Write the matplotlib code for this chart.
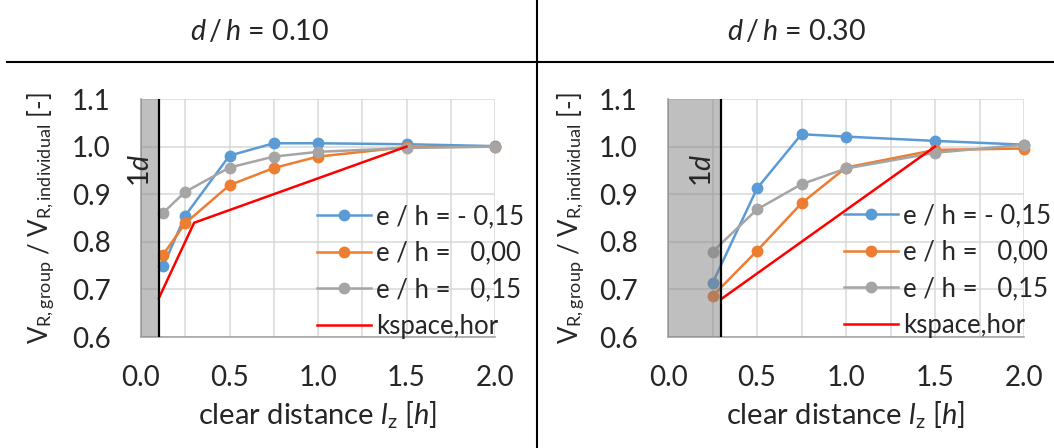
import matplotlib
matplotlib.use("Agg")
import matplotlib.pyplot as plt
from matplotlib.lines import Line2D

plt.rcParams['font.family'] = ['Lato', 'DejaVu Sans']
plt.rcParams['mathtext.fontset'] = 'custom'
plt.rcParams['mathtext.rm'] = 'Lato'
plt.rcParams['mathtext.it'] = 'Lato:italic'
plt.rcParams['mathtext.bf'] = 'Lato:bold'

# ---------------- data ----------------
panel_titles = ["0.10", "0.30"]
wall_x = [0.1, 0.3]

x_left = [0.125, 0.25, 0.5, 0.75, 1.0, 1.5, 2.0]
blue_left = [0.749, 0.855, 0.981, 1.007, 1.007, 1.005, 1.001]
orange_left = [0.773, 0.839, 0.919, 0.955, 0.979, 0.999, 1.000]
gray_left = [0.861, 0.905, 0.956, 0.979, 0.989, 0.997, 1.000]
kspace_x_left = [0.1, 0.3, 1.5]
kspace_y_left = [0.681, 0.840, 1.000]

x_right = [0.25, 0.5, 0.75, 1.0, 1.5, 2.0]
blue_right = [0.713, 0.912, 1.026, 1.021, 1.012, 1.004]
orange_right = [0.686, 0.781, 0.881, 0.956, 0.993, 0.996]
gray_right = [0.779, 0.868, 0.921, 0.954, 0.987, 1.004]
kspace_x_right = [0.3, 1.5]
kspace_y_right = [0.680, 1.000]

series_labels = ["e / h = - 0,15", "e / h =   0,00", "e / h =   0,15", "kspace,hor"]
series_colors = ["#5B9BD5", "#ED7D31", "#A5A5A5", "#FF0000"]

x_ticks = [0.0, 0.5, 1.0, 1.5, 2.0]
y_ticks = [0.6, 0.7, 0.8, 0.9, 1.0, 1.1]

# ---------------- figure ----------------
W, H = 1054, 448
fig = plt.figure(figsize=(W / 100, H / 100), dpi=100)

FS_TICK = 20
FS_TITLE = 20.5
FS_LEG = 18.5
FS_XL = 21
FS_YL = 18.5
TXT = "#262626"


def px_axes(l, t, r, b):
    return fig.add_axes([l / W, 1 - b / H, (r - l) / W, (b - t) / H])


panels = [
    dict(ax=px_axes(141, 99, 495, 337), x=x_left,
         ys=[blue_left, orange_left, gray_left],
         kx=kspace_x_left, ky=kspace_y_left, wall=wall_x[0],
         title=panel_titles[0], tcx=260, leg=(317, 204), ylx=57),
    dict(ax=px_axes(668, 99, 1024, 337), x=x_right,
         ys=[blue_right, orange_right, gray_right],
         kx=kspace_x_right, ky=kspace_y_right, wall=wall_x[1],
         title=panel_titles[1], tcx=797, leg=(844, 203), ylx=587),
]

for p in panels:
    ax = p["ax"]
    ax.set_xlim(0, 2.0)
    ax.set_ylim(0.6, 1.1)
    ax.set_xticks(x_ticks)
    ax.set_xticks([0.25, 0.75, 1.25, 1.75], minor=True)
    ax.set_yticks(y_ticks)
    ax.set_xticklabels([f"{v:.1f}" for v in x_ticks], fontsize=FS_TICK, color=TXT)
    ax.set_yticklabels([f"{v:.1f}" for v in y_ticks], fontsize=FS_TICK, color=TXT)
    ax.tick_params(axis="both", which="both", length=0)
    ax.tick_params(axis="y", pad=22)
    ax.tick_params(axis="x", pad=20)
    ax.grid(True, which="both", color="#D9D9D9", lw=1.1)
    ax.set_axisbelow(True)
    for s in ["top", "right"]:
        ax.spines[s].set_visible(False)
    for s in ["left", "bottom"]:
        ax.spines[s].set_color("#A6A6A6")
        ax.spines[s].set_linewidth(1.2)

    handles = []
    for yv, c, lab in zip(p["ys"], series_colors[:3], series_labels[:3]):
        h, = ax.plot(p["x"], yv, color=c, lw=1.8, marker="o", ms=7.5,
                     zorder=3, clip_on=False, label=lab)
        handles.append(h)
    h, = ax.plot(p["kx"], p["ky"], color=series_colors[3], lw=1.8, zorder=3,
                 clip_on=False, label=series_labels[3])
    handles.append(h)

    ax.axvspan(0, p["wall"], color="#808080", alpha=0.5, lw=0, zorder=4)
    ax.axvline(p["wall"], color="black", lw=1.6, zorder=5)
    ax.annotate(r"$1d$", xy=(p["wall"], 0.95), xytext=(-13, 0),
                textcoords="offset points", rotation=90, fontsize=FS_TITLE,
                ha="center", va="center", color=TXT, zorder=6,
                annotation_clip=False)

    ax.set_xlabel(r"clear distance $l_{\mathrm{z}}$ [$h$]", fontsize=FS_XL,
                  color=TXT, labelpad=6)
    ax.set_ylabel(r"V$_{\mathrm{R,group}}$ / V$_{\mathrm{R,individual}}$ [-]",
                  fontsize=FS_YL, color=TXT)
    l, b, w, hh = ax.get_position().bounds
    ax.yaxis.set_label_coords((p["ylx"] / W - l) / w, 0.5)

    lx, ly = p["leg"]
    ax.legend(handles=handles, loc="upper left",
              bbox_to_anchor=(lx / W, 1 - ly / H), bbox_transform=fig.transFigure,
              frameon=False, fontsize=FS_LEG, borderpad=0, borderaxespad=0,
              handlelength=2.1, handletextpad=0.2, labelspacing=0.45,
              labelcolor=TXT)

    fig.text(p["tcx"] / W, 1 - 31 / H, r"$d\,/\,h$ = " + p["title"], fontsize=FS_TITLE,
             ha="center", va="center", color=TXT)

# separators
fig.add_artist(Line2D([537 / W, 537 / W], [0, 1], color="black", lw=1.5,
                      transform=fig.transFigure))
fig.add_artist(Line2D([7 / W, 1], [1 - 62 / H, 1 - 62 / H], color="black",
                      lw=1.5, transform=fig.transFigure))

fig.savefig("out.png", dpi=100)
